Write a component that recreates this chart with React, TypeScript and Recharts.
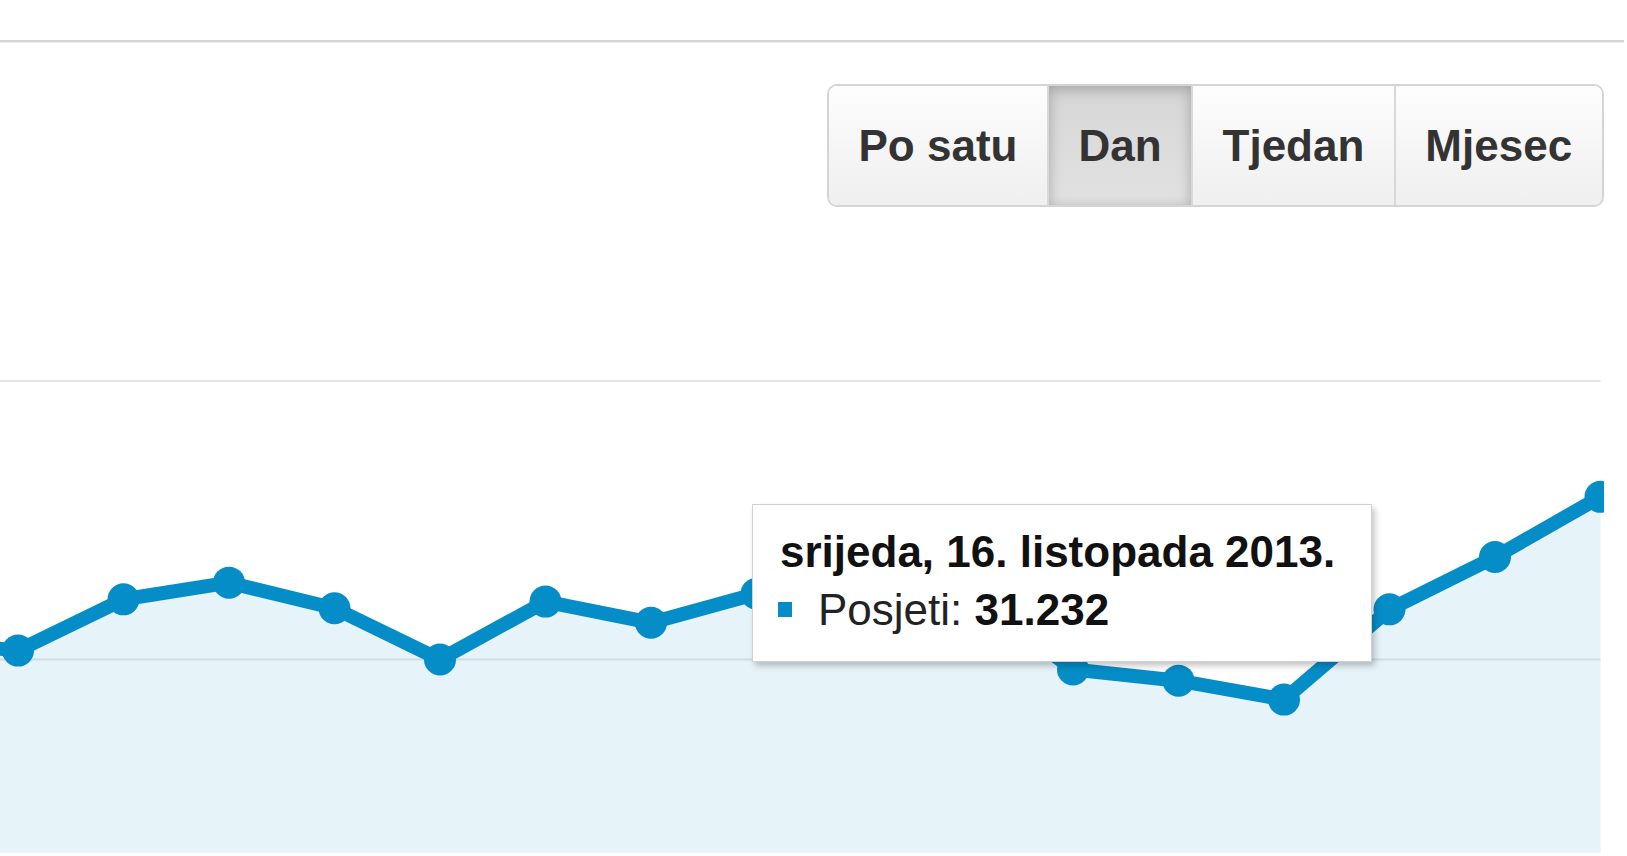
import React from "react";
import { Area, AreaChart, CartesianGrid, Tooltip, XAxis, YAxis } from "recharts";

// daily visits, 6.-22. listopada 2013 (first point sits just off the left edge)
const days = [
  "nedjelja, 6. listopada 2013.",
  "ponedjeljak, 7. listopada 2013.",
  "utorak, 8. listopada 2013.",
  "srijeda, 9. listopada 2013.",
  "četvrtak, 10. listopada 2013.",
  "petak, 11. listopada 2013.",
  "subota, 12. listopada 2013.",
  "nedjelja, 13. listopada 2013.",
  "ponedjeljak, 14. listopada 2013.",
  "utorak, 15. listopada 2013.",
  "srijeda, 16. listopada 2013.",
  "četvrtak, 17. listopada 2013.",
  "petak, 18. listopada 2013.",
  "subota, 19. listopada 2013.",
  "nedjelja, 20. listopada 2013.",
  "ponedjeljak, 21. listopada 2013.",
  "utorak, 22. listopada 2013.",
];
const visits = [
  26800, 25800, 30400, 31900, 29600, 25000, 30200, 28300, 30900, 31800, 31232,
  24100, 23100, 21400, 29500, 34200, 39600,
];
const yTicks = [0, 25000, 50000];
const periods = ["Po satu", "Dan", "Tjedan", "Mjesec"];
const activePeriod = "Dan";
const seriesName = "Posjeti";
const hoverIndex = 10;

const data = days.map((day, i) => ({ day, visits: visits[i] }));

const BLUE = "#058dc7";
const FONT = '"Liberation Sans", Arial, Helvetica, sans-serif';
const CHART_LEFT = -120;
const CHART_TOP = 361;

const fmt = (n: number) => String(n).replace(/\B(?=(\d{3})+(?!\d))/g, ".");

const PointDot = ({ cx, cy, index }: any) =>
  cx == null || cy == null ? null : (
    <circle key={index} cx={cx} cy={cy} r={16} fill={BLUE} fillOpacity={1} stroke="none" />
  );

const TipBox = ({ active, payload, label }: any) => {
  if (!active || !payload || !payload.length) return null;
  return (
    <div
      style={{
        width: 620,
        height: 158,
        boxSizing: "border-box",
        background: "#fff",
        border: "1px solid #d0d0d0",
        boxShadow: "3px 4px 6px rgba(0,0,0,0.22)",
        padding: "18px 0 0 25px",
        fontFamily: FONT,
        fontSize: 44,
        lineHeight: "58px",
        color: "#111",
        whiteSpace: "nowrap",
      }}
    >
      <div style={{ fontWeight: "bold", paddingLeft: 2 }}>{label}</div>
      <div style={{ color: "#222" }}>
        <span
          style={{
            display: "inline-block",
            width: 14,
            height: 15,
            background: BLUE,
            marginRight: 26,
            marginBottom: 8,
          }}
        />
        {seriesName}: <b style={{ color: "#111" }}>{fmt(payload[0].value)}</b>
      </div>
    </div>
  );
};

const PeriodButtons = () => (
  <div
    style={{
      position: "absolute",
      left: 827,
      top: 84,
      height: 123,
      display: "flex",
      boxSizing: "border-box",
      border: "2px solid #d4d4d4",
      borderRadius: 10,
      overflow: "hidden",
      fontFamily: FONT,
      fontWeight: "bold",
      fontSize: 44,
      color: "#333",
    }}
  >
    {periods.map((p, i) => (
      <div
        key={p}
        style={{
          display: "flex",
          alignItems: "center",
          padding: "0 29.5px",
          borderLeft: i ? "2px solid #d8d8d8" : "none",
          background:
            p === activePeriod
              ? "linear-gradient(#d6d6d6, #e2e2e2)"
              : "linear-gradient(#fdfdfd, #efefef)",
          boxShadow:
            p === activePeriod ? "inset 0 3px 14px rgba(0,0,0,0.25)" : "none",
        }}
      >
        {p}
      </div>
    ))}
  </div>
);

export default function App() {
  return (
    <div
      style={{
        position: "absolute",
        left: 0,
        top: 0,
        width: 1627,
        height: 856,
        overflow: "hidden",
        background: "#fff",
      }}
    >
      <div
        style={{
          position: "absolute",
          left: 0,
          top: 40,
          width: 1624,
          height: 2,
          background: "#d6d6d6",
          boxShadow: "0 1px 0 #ececec",
        }}
      />
      <PeriodButtons />
      <div
        style={{
          position: "absolute",
          left: 0,
          top: 0,
          width: 1604,
          height: 853,
          overflow: "hidden",
        }}
      >
        <div style={{ position: "absolute", left: CHART_LEFT, top: CHART_TOP }}>
          <AreaChart
            width={1750}
            height={577}
            data={data}
            margin={{ top: 20, right: 29.5, bottom: 0, left: 32.5 }}
          >
            <CartesianGrid
              vertical={false}
              stroke="#e6e6e6"
              strokeWidth={2}
              horizontalValues={[25000, 50000]}
            />
            <XAxis dataKey="day" hide />
            <YAxis hide domain={[0, 50000]} ticks={yTicks} />
            <Area
              type="linear"
              dataKey="visits"
              name={seriesName}
              stroke={BLUE}
              strokeWidth={14}
              fill={BLUE}
              fillOpacity={0.1}
              dot={PointDot}
              activeDot={false}
              isAnimationActive={false}
            />
            <Tooltip
              active
              defaultIndex={hoverIndex}
              cursor={false}
              isAnimationActive={false}
              allowEscapeViewBox={{ x: true, y: true }}
              position={{ x: 752 - CHART_LEFT, y: 504 - CHART_TOP }}
              wrapperStyle={{ zIndex: 10, outline: "none" }}
              content={<TipBox />}
            />
          </AreaChart>
        </div>
      </div>
    </div>
  );
}
